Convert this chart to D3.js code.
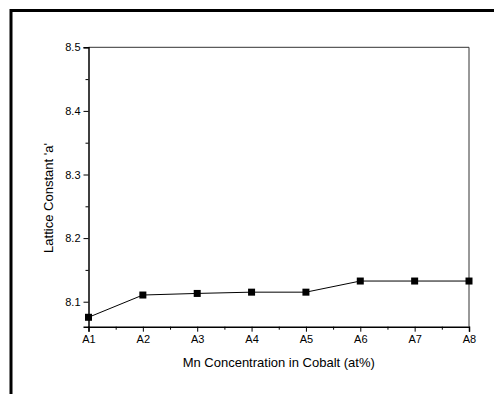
<!DOCTYPE html>
<html><head><meta charset="utf-8">
<script src="https://cdn.jsdelivr.net/npm/d3@7"></script>
<style>body{margin:0;background:#fff}svg{display:block}text{font-family:"Liberation Sans",Arial,sans-serif;fill:#000}</style>
</head><body>
<svg id="c" width="494" height="394"></svg>
<script>
const categories = ["A1","A2","A3","A4","A5","A6","A7","A8"];
const latticeValues = [8.0755, 8.1105, 8.113, 8.115, 8.115, 8.1325, 8.1325, 8.1325];
const yTickValues = [8.1, 8.2, 8.3, 8.4, 8.5];
const yMinorValues = [8.15, 8.25, 8.35, 8.45];
const xTitle = "Mn Concentration in Cobalt (at%)";
const yTitle = "Lattice Constant 'a'";

const svg = d3.select("#c");
const L = 88.5, R = 469, T = 47.3, B = 326.7;
const x = d3.scalePoint().domain(categories).range([L, R]);
const y = d3.scaleLinear().domain([8.0607, 8.5]).range([B, T]);

// outer frame
svg.append("rect").attr("x", 11).attr("y", 10.5).attr("width", 520).attr("height", 520)
  .attr("fill", "none").attr("stroke", "#000").attr("stroke-width", 3);

// plot box top/right
svg.append("line").attr("x1", L).attr("x2", R).attr("y1", T).attr("y2", T).attr("stroke", "#333").attr("stroke-width", 1);
svg.append("line").attr("x1", R).attr("x2", R).attr("y1", T).attr("y2", B).attr("stroke", "#333").attr("stroke-width", 1);

// y axis
const yAxis = svg.append("g").attr("transform", `translate(${L},0)`)
  .call(d3.axisLeft(y).tickValues(yTickValues).tickFormat(d3.format(".1f")).tickSizeOuter(0).tickSize(5).tickPadding(3));
svg.append("g").attr("transform", `translate(${L},0)`)
  .call(d3.axisLeft(y).tickValues(yMinorValues).tickFormat("").tickSizeOuter(0).tickSize(3))
  .select(".domain").remove();

// x axis
const xAxis = svg.append("g").attr("transform", `translate(0,${B})`)
  .call(d3.axisBottom(x).tickSizeOuter(0).tickSize(5).tickPadding(4));
const mids = categories.slice(0, -1).map((c, i) => (x(c) + x(categories[i + 1])) / 2);
const xm = d3.scaleLinear().domain([L, R]).range([L, R]);
svg.append("g").attr("transform", `translate(0,${B})`)
  .call(d3.axisBottom(xm).tickValues(mids).tickFormat("").tickSizeOuter(0).tickSize(3))
  .select(".domain").remove();

svg.selectAll(".domain").attr("stroke", "#000").attr("stroke-width", 1.5);
svg.selectAll(".tick line").attr("stroke", "#000");
svg.selectAll(".tick text").style("font-size", "11px").attr("fill", "#000");

// line
svg.append("path").datum(categories.map((c, i) => [c, latticeValues[i]]))
  .attr("fill", "none").attr("stroke", "#000").attr("stroke-width", 1)
  .attr("d", d3.line().x(d => x(d[0])).y(d => y(d[1])));

// markers
const ms = 7;
svg.selectAll("rect.m").data(categories).enter().append("rect").attr("class", "m")
  .attr("x", d => x(d) - ms / 2).attr("y", (d, i) => y(latticeValues[i]) - ms / 2)
  .attr("width", ms).attr("height", ms).attr("fill", "#000");

// titles
svg.append("text").attr("x", (L + R) / 2).attr("y", 367).attr("text-anchor", "middle")
  .style("font-size", "13px").text(xTitle);
svg.append("text").attr("transform", "translate(53,198) rotate(-90)").attr("text-anchor", "middle")
  .style("font-size", "13px").text(yTitle);
</script>
</body></html>
